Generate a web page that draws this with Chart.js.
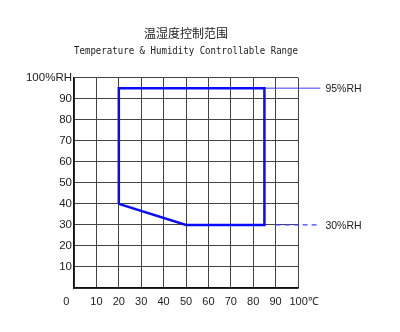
<!DOCTYPE html>
<html>
<head>
<meta charset="utf-8">
<script src="https://cdn.jsdelivr.net/npm/chart.js@4/dist/chart.umd.min.js"></script>
<style>
  html, body { margin: 0; padding: 0; background: #fff; }
  #wrap { width: 400px; height: 332px; }
</style>
</head>
<body>
<div id="wrap"><canvas id="myChart" width="400" height="332"></canvas></div>
<script>
// controllable range outline (temperature °C, humidity %RH)
const tempC = [20, 20, 85, 85, 50, 20];
const humidityRH = [40, 95, 95, 30, 30, 40];

// guide lines out to the right-hand labels
const upperGuideX = [85, 110];
const upperGuideY = [95, 95];
const lowerGuideX = [90, 110];
const lowerGuideY = [30, 30];
const guideLabels = ["95%RH", "30%RH"];

const xTickValues = [0, 10, 20, 30, 40, 50, 60, 70, 80, 90, 100];
const yTickValues = [0, 10, 20, 30, 40, 50, 60, 70, 80, 90, 100];

const toPoints = (xs, ys) => xs.map((x, i) => ({ x: x, y: ys[i] }));

// writes the 95%RH / 30%RH labels next to the guide lines
const guideLabelPlugin = {
  id: "guideLabels",
  afterDatasetsDraw(chart) {
    const ctx = chart.ctx;
    const xs = chart.scales.x;
    const ys = chart.scales.y;
    ctx.save();
    ctx.font = "10.5px 'Liberation Sans'";
    ctx.fillStyle = "#222";
    ctx.textBaseline = "middle";
    ctx.textAlign = "left";
    ctx.fillText(guideLabels[0], xs.getPixelForValue(upperGuideX[1]) + 5, ys.getPixelForValue(upperGuideY[0]) + 1);
    ctx.fillText(guideLabels[1], xs.getPixelForValue(lowerGuideX[1]) + 5, ys.getPixelForValue(lowerGuideY[0]) + 1);
    ctx.restore();
  },
};

const data = {
  datasets: [
    {
      label: "range",
      data: toPoints(tempC, humidityRH),
      borderColor: "#0a0aff",
      borderWidth: 2.5,
      pointRadius: 0,
      fill: false,
      tension: 0,
    },
    {
      label: "95%RH",
      data: toPoints(upperGuideX, upperGuideY),
      borderColor: "#3c3cff",
      borderWidth: 1,
      pointRadius: 0,
      clip: false,
    },
    {
      label: "30%RH",
      data: toPoints(lowerGuideX, lowerGuideY),
      borderColor: "#3c3cff",
      borderWidth: 1.2,
      borderDash: [5, 4],
      pointRadius: 0,
      clip: false,
    },
  ],
};

const config = {
  type: "line",
  data: data,
  plugins: [guideLabelPlugin],
  options: {
    responsive: false,
    animation: false,
    layout: { padding: { left: 0, right: 102, top: 0, bottom: 0 } },
    plugins: {
      legend: { display: false },
      tooltip: { enabled: false },
      title: {
        display: true,
        fullSize: false,
        text: "温湿度控制范围",
        color: "#222",
        font: { family: "'Noto Sans CJK SC'", size: 12, weight: "normal" },
        padding: { top: 26, bottom: 5 },
      },
      subtitle: {
        display: true,
        fullSize: false,
        text: "Temperature & Humidity Controllable Range",
        color: "#222",
        font: { family: "'DejaVu Sans Mono'", size: 9.7 },
        padding: { top: 0, bottom: 20.6 },
      },
    },
    scales: {
      x: {
        type: "linear",
        min: 0,
        max: 100,
        afterBuildTicks: (scale) => {
          scale.ticks = xTickValues.map((v) => ({ value: v }));
        },
        afterFit: (scale) => {
          scale.height = 44;
        },
        grid: { color: "#444", lineWidth: 1, drawTicks: false },
        border: { color: "#111", width: 1.5 },
        ticks: {
          color: "#222",
          padding: 7,
          maxRotation: 0,
          autoSkip: false,
          font: { family: "'Liberation Sans'", size: 11 },
          callback: (v) => (v === 0 ? "0     " : v === 100 ? "    100℃" : String(v)),
        },
      },
      y: {
        type: "linear",
        min: 0,
        max: 100,
        afterBuildTicks: (scale) => {
          scale.ticks = yTickValues.map((v) => ({ value: v }));
        },
        afterFit: (scale) => {
          scale.width = 74;
        },
        grid: { color: "#444", lineWidth: 1, drawTicks: false },
        border: { color: "#111", width: 1.5 },
        ticks: {
          color: "#222",
          padding: 2,
          autoSkip: false,
          font: { family: "'Liberation Sans'", size: 11.5 },
          callback: (v) => (v === 0 ? "" : v === 100 ? "100%RH" : String(v)),
        },
      },
    },
  },
};

const myChart = new Chart(document.getElementById("myChart"), config);
</script>
</body>
</html>
